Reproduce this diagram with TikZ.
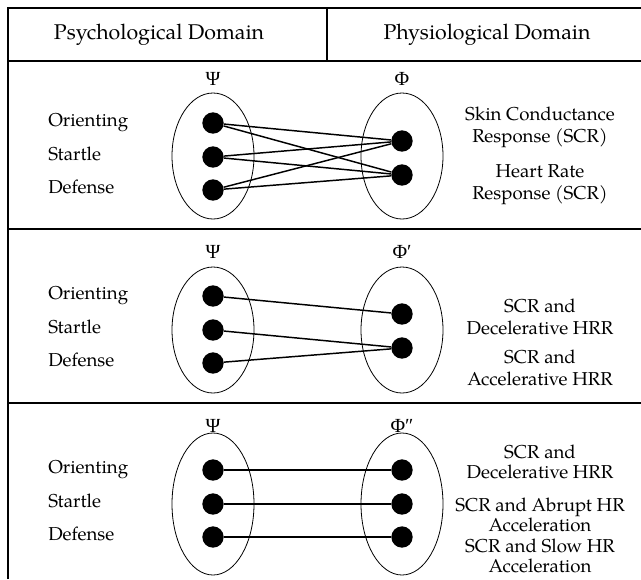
\documentclass[tikz,border=0pt]{standalone}
\usepackage{fontspec}
\setmainfont{TeX Gyre Pagella}
\newfontfamily\grk{Liberation Serif}
\begin{document}
\begin{tikzpicture}[x=0.75pt,y=-0.75pt,font=\fontsize{14}{16.5}\selectfont,
	dot/.style={circle,fill=black,inner sep=0pt,minimum size=16pt},
	link/.style={line width=1.1pt},
	set/.style={line width=0.6pt},
	rule/.style={line width=0.9pt},
	head/.style={font=\fontsize{16}{19}\selectfont},
	letter/.style={anchor=base,inner sep=0pt,font=\fontsize{15}{17}\grk},
	word/.style={anchor=west,inner sep=0pt,text height=1.6ex,text depth=.4ex},
	resp/.style={align=center,inner sep=0pt}]
	\useasboundingbox (0,0) rectangle (641,579);
	\draw[rule] (8,579) -- (8,8) -- (641,8);
	\draw[rule] (327,8) -- (327,61);
	\draw[rule] (8,61) -- (641,61);
	\draw[rule] (8,229) -- (641,229);
	\draw[rule] (8,403) -- (641,403);
	\node[head] (hpsy) at (159,35) {Psychological Domain};
	\node[head] (hphy) at (487,35) {Physiological Domain};
	% first panel
	\draw[set] (213,156) ellipse [x radius=41,y radius=63];
	\draw[set] (402,156) ellipse [x radius=41,y radius=63];
	\node[letter] (psiA) at (213,85) {Ψ};
	\node[letter] (phiA) at (402,85) {Φ};
	\node[word] (wo1) at (48,123) {Orienting};
	\node[word] (ws1) at (48,157) {Startle};
	\node[word] (wd1) at (48,190) {Defense};
	\node[dot] (o1) at (213,123) {};
	\node[dot] (s1) at (213,157) {};
	\node[dot] (d1) at (213,190) {};
	\node[dot] (r1a) at (402,141) {};
	\node[dot] (r1b) at (402,175) {};
	\draw[link] (o1) -- (r1a);
	\draw[link] (o1) -- (r1b);
	\draw[link] (s1) -- (r1a);
	\draw[link] (s1) -- (r1b);
	\draw[link] (d1) -- (r1a);
	\draw[link] (d1) -- (r1b);
	\node[resp] (t1a) at (540,127) {Skin Conductance\\Response (SCR)};
	\node[resp] (t1b) at (540,185) {Heart Rate\\Response (SCR)};
	% second panel
	\draw[set] (213,330) ellipse [x radius=41,y radius=63];
	\draw[set] (402,330) ellipse [x radius=41,y radius=63];
	\node[letter] (psiB) at (213,258) {Ψ};
	\node[letter] (phiB) at (402,258) {Φ′};
	\node[word] (wo2) at (48,296) {Orienting};
	\node[word] (ws2) at (48,330) {Startle};
	\node[word] (wd2) at (48,363) {Defense};
	\node[dot] (o2) at (213,296) {};
	\node[dot] (s2) at (213,330) {};
	\node[dot] (d2) at (213,363) {};
	\node[dot] (r2a) at (402,314) {};
	\node[dot] (r2b) at (402,348) {};
	\draw[link] (o2) -- (r2a);
	\draw[link] (s2) -- (r2b);
	\draw[link] (d2) -- (r2b);
	\node[resp] (t2a) at (540,317) {SCR and\\Decelerative HRR};
	\node[resp] (t2b) at (540,368) {SCR and\\Accelerative HRR};
	% third panel
	\draw[set] (213,504) ellipse [x radius=41,y radius=71];
	\draw[set] (402,504) ellipse [x radius=41,y radius=71];
	\node[letter] (psiC) at (213,432) {Ψ};
	\node[letter] (phiC) at (402,432) {Φ″};
	\node[word] (wo3) at (48,470) {Orienting};
	\node[word] (ws3) at (48,504) {Startle};
	\node[word] (wd3) at (48,537) {Defense};
	\node[dot] (o3) at (213,470) {};
	\node[dot] (s3) at (213,504) {};
	\node[dot] (d3) at (213,537) {};
	\node[dot] (r3a) at (402,470) {};
	\node[dot] (r3b) at (402,504) {};
	\node[dot] (r3c) at (402,537) {};
	\draw[link] (o3) -- (r3a);
	\draw[link] (s3) -- (r3b);
	\draw[link] (d3) -- (r3c);
	\node[resp,font=\fontsize{14}{15.3}\selectfont] (t3a) at (540,462) {SCR and\\Decelerative HRR};
	\node[resp,font=\fontsize{14}{15.3}\selectfont] (t3b) at (540,515) {SCR and Abrupt HR\\Acceleration};
	\node[resp,font=\fontsize{14}{15.3}\selectfont] (t3c) at (540,556) {SCR and Slow HR\\Acceleration};
\end{tikzpicture}
\end{document}
